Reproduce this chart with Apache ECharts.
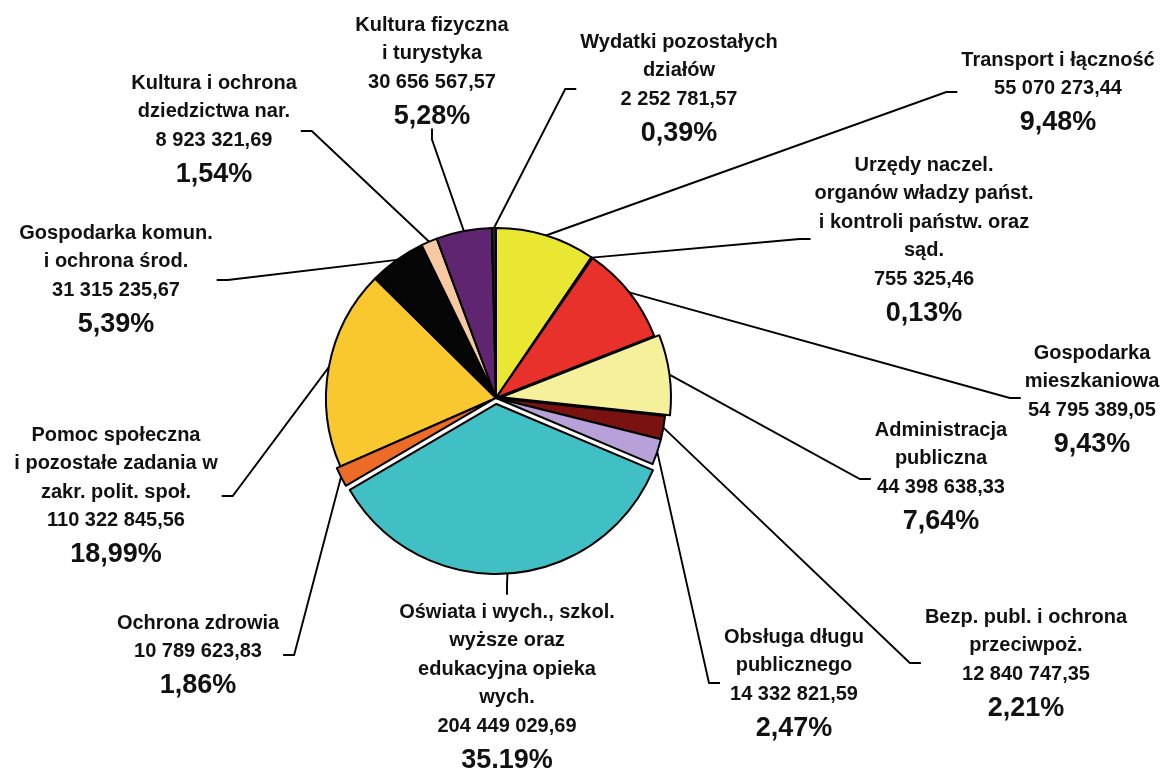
<!DOCTYPE html>
<html><head><meta charset="utf-8">
<style>html,body{margin:0;padding:0;background:#fff}#c{width:1167px;height:768px}</style>
<script src="https://cdn.jsdelivr.net/npm/echarts@6/dist/echarts.min.js"></script>
</head><body><div id="c"></div>
<script>
const categories = [
  'Transport i łączność',
  'Urzędy naczel.\norganów władzy państ.\ni kontroli państw. oraz\nsąd.',
  'Gospodarka\nmieszkaniowa',
  'Administracja\npubliczna',
  'Bezp. publ. i ochrona\nprzeciwpoż.',
  'Obsługa długu\npublicznego',
  'Oświata i wych., szkol.\nwyższe oraz\nedukacyjna opieka\nwych.',
  'Ochrona zdrowia',
  'Pomoc społeczna\ni pozostałe zadania w\nzakr. polit. społ.',
  'Gospodarka komun.\ni ochrona środ.',
  'Kultura i ochrona\ndziedzictwa nar.',
  'Kultura fizyczna\ni turystyka',
  'Wydatki pozostałych\ndziałów'
];
const values = [55070273.44, 755325.46, 54795389.05, 44398638.33, 12840747.35, 14332821.59,
  204449029.69, 10789623.83, 110322845.56, 31315235.67, 8923321.69, 30656567.57, 2252781.57];
const percentLabels = ['9,48%','0,13%','9,43%','7,64%','2,21%','2,47%','35,19%','1,86%','18,99%','5,39%','1,54%','5,28%','0,39%'];

// styling / layout (not data)
const colors = ['#e9e732','#5a2a1c','#e8312a','#f5f09c','#7b1212','#b7a1d8','#40c0c5',
  '#ec6b26','#f9c82e','#060606','#f7c9a2','#5f2571','#222222'];
const explodeOffset = [0,0,0,5,0,0,6,4,0,0,0,0,0];
// label placement: centre x, first-line centre y, side of the leader stub, stub y offset from first line
const labelPlacement = [
  {x:1058, y:60,  side:'left',   dy:32},
  {x:924,  y:165, side:'left',   dy:74},
  {x:1092, y:353, side:'left',   dy:45},
  {x:941,  y:430, side:'left',   dy:49},
  {x:1026, y:617, side:'left',   dy:46},
  {x:794,  y:637, side:'left',   dy:46},
  {x:507,  y:612, side:'top',    dy:0},
  {x:198,  y:623, side:'right',  dy:32},
  {x:116,  y:435, side:'right',  dy:61},
  {x:116,  y:233, side:'right',  dy:47},
  {x:214,  y:83,  side:'right',  dy:48},
  {x:432,  y:25,  side:'bottom', dy:0},
  {x:679,  y:42,  side:'left',   dy:47}
];
const CENTER = [496, 398], RADIUS = 170;
const FONT = '"Liberation Sans", Arial, sans-serif';
const BORDER = {borderColor: '#000', borderWidth: 2};

function fmt(v) {
  const parts = v.toFixed(2).split('.');
  return parts[0].replace(/\B(?=(\d{3})+(?!\d))/g, ' ') + ',' + parts[1];
}

const total = values.reduce((a, b) => a + b, 0);
const midAngles = [];
{
  let cum = 0;
  values.forEach(v => { midAngles.push((cum + v / 2) / total * 2 * Math.PI); cum += v; });
}

const mainSeries = {
  type: 'pie',
  center: CENTER,
  radius: RADIUS,
  startAngle: 90,
  clockwise: true,
  avoidLabelOverlap: false,
  emphasis: {disabled: true},
  z: 2,
  data: values.map((v, i) => ({
    name: categories[i], value: v,
    itemStyle: explodeOffset[i] ? {color: 'rgba(0,0,0,0)', borderWidth: 0} : Object.assign({color: colors[i]}, BORDER)
  })),
  label: {
    show: true,
    position: 'outside',
    color: '#111',
    fontFamily: FONT,
    formatter: p => {
      const i = p.dataIndex;
      const lines = categories[i].split('\n').map(s => '{n|' + s + '}');
      lines.push('{n|' + fmt(values[i]) + '}');
      lines.push('{p|' + percentLabels[i] + '}');
      return lines.join('\n');
    },
    rich: {
      n: {fontSize: 20, fontWeight: 'bold', lineHeight: 28.5, fontFamily: FONT, color: '#111'},
      p: {fontSize: 27, fontWeight: 'bold', lineHeight: 40, fontFamily: FONT, color: '#111'}
    }
  },
  labelLine: {show: true, lineStyle: {color: '#000', width: 1.9}},
  labelLayout: function (params) {
    const i = params.dataIndex;
    const L = labelPlacement[i];
    const w = params.labelRect.width, h = params.labelRect.height;
    const top = L.y - 14.25;
    const left = L.x - w / 2;
    let p0 = params.labelLinePoints ? params.labelLinePoints[0].slice() : [CENTER[0], CENTER[1]];
    if (explodeOffset[i]) {
      const dx = p0[0] - CENTER[0], dy = p0[1] - CENTER[1];
      const d = Math.sqrt(dx * dx + dy * dy) || 1;
      p0 = [p0[0] + dx / d * explodeOffset[i], p0[1] + dy / d * explodeOffset[i]];
    }
    let end, elbow;
    if (L.side === 'left') {
      end = [left - 4, L.y + L.dy]; elbow = [end[0] - 11, end[1]];
    } else if (L.side === 'right') {
      end = [left + w + 4, L.y + L.dy]; elbow = [end[0] + 11, end[1]];
    } else if (L.side === 'top') {
      end = [L.x, top - 3]; elbow = [L.x, top - 14];
    } else {
      end = [L.x, top + h + 3]; elbow = [L.x, top + h + 14];
    }
    return {x: L.x, y: top, align: 'center', verticalAlign: 'top', labelLinePoints: [p0, elbow, end]};
  }
};

// exploded slices: same pie drawn again with a shifted centre, only that slice visible
const explodedSeries = [];
explodeOffset.forEach((off, k) => {
  if (!off) return;
  const a = midAngles[k];
  explodedSeries.push({
    type: 'pie',
    center: [CENTER[0] + Math.sin(a) * off, CENTER[1] - Math.cos(a) * off],
    radius: RADIUS,
    startAngle: 90,
    clockwise: true,
    silent: true,
    z: 3,
    emphasis: {disabled: true},
    label: {show: false},
    labelLine: {show: false},
    data: values.map((v, i) => ({
      name: categories[i], value: v,
      itemStyle: i === k ? Object.assign({color: colors[i]}, BORDER) : {color: 'rgba(0,0,0,0)', borderWidth: 0}
    }))
  });
});

const chart = echarts.init(document.getElementById('c'), null, {renderer: 'canvas'});
chart.setOption({
  backgroundColor: '#ffffff',
  animation: false,
  series: [mainSeries].concat(explodedSeries)
});
</script>
</body></html>
